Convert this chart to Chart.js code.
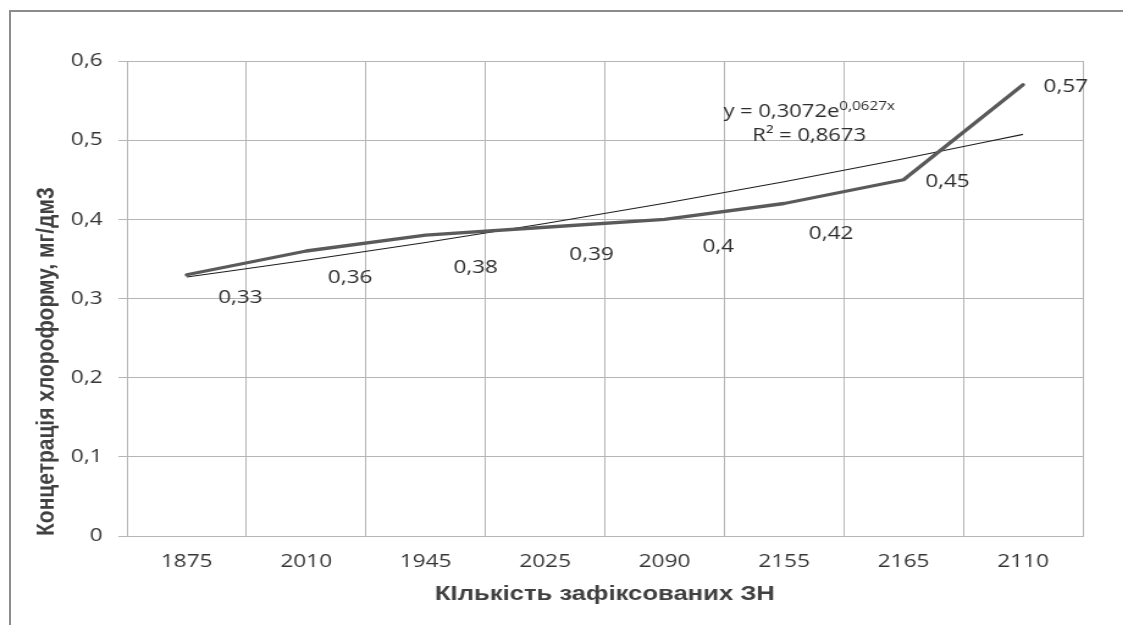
<!DOCTYPE html>
<html lang="uk">
<head>
<meta charset="utf-8">
<title>Концетрація хлороформу</title>
<script src="https://cdn.jsdelivr.net/npm/chart.js@4.4.1/dist/chart.umd.min.js"></script>
<style>
  html, body { margin: 0; padding: 0; background: #fff; overflow: hidden; }
  #wrap { position: relative; width: 1123px; height: 625px; background: #fff; overflow: hidden; }
  /* the chart is drawn 920px wide and widened to the full 1123px */
  #stretch { position: absolute; left: 0; top: 0; width: 920px; height: 625px;
             transform: scaleX(1.2207); transform-origin: 0 0; }
  #frame {
    position: absolute; left: 9px; top: 10px; right: -20px; bottom: -20px;
    border-top: 2px solid #8c8c8c; border-left: 2px solid #8c8c8c;
    pointer-events: none;
  }
</style>
</head>
<body>
<div id="wrap">
  <div id="stretch"><canvas id="c" width="920" height="625"></canvas></div>
  <div id="frame"></div>
</div>
<script>
// Number of recorded events (category labels, in original order)
const categories = ['1875', '2010', '1945', '2025', '2090', '2155', '2165', '2110'];
// Chloroform concentration, mg/dm3
const concentration = [0.33, 0.36, 0.38, 0.39, 0.40, 0.42, 0.45, 0.57];
// Exponential trend y = A·e^(B·x), x = 1..n, and its R²
const TREND_A = 0.3072;
const TREND_B = 0.0627;
const TREND_R2 = 0.8673;
// Y axis ticks
const yTicks = [0, 0.1, 0.2, 0.3, 0.4, 0.5, 0.6];

// Label placement around each point (canvas px), kept apart from the data
const labelShiftX = [44, 36, 41, 38, 44, 38.5, 36, 35];
const labelShiftY = [23, 27, 33, 27, 27, 30, 2, 2];

const trend = categories.map((_, i) => TREND_A * Math.exp(TREND_B * (i + 1)));

const comma = (v) => String(v).replace('.', ',');
const fmt = (v) => comma(+v.toFixed(4));

const FONT_NUM = "'Open Sans', 'DejaVu Sans', sans-serif";
const FONT_TITLE = "'Liberation Sans', Arial, sans-serif";

const pointLabels = {
  id: 'pointLabels',
  afterDatasetsDraw(chart) {
    const meta = chart.getDatasetMeta(1);
    const ctx = chart.ctx;
    ctx.save();
    ctx.font = '18.5px ' + FONT_NUM;
    ctx.fillStyle = '#2e2e2e';
    ctx.textAlign = 'center';
    ctx.textBaseline = 'middle';
    meta.data.forEach((pt, i) => {
      ctx.fillText(fmt(concentration[i]), pt.x + labelShiftX[i], pt.y + labelShiftY[i]);
    });
    ctx.restore();
  }
};

const trendLabel = {
  id: 'trendLabel',
  afterDatasetsDraw(chart) {
    const ctx = chart.ctx;
    const xs = chart.scales.x;
    const cx = xs.getPixelForValue(5.21);
    ctx.save();
    ctx.fillStyle = '#2e2e2e';
    ctx.textBaseline = 'alphabetic';
    const main = 'y = ' + fmt(TREND_A) + 'e';
    const sup = fmt(TREND_B) + 'x';
    ctx.font = '18px ' + FONT_NUM;
    const wMain = ctx.measureText(main).width;
    ctx.font = '12.5px ' + FONT_NUM;
    const wSup = ctx.measureText(sup).width;
    const x0 = cx - (wMain + wSup) / 2;
    ctx.textAlign = 'left';
    ctx.font = '18px ' + FONT_NUM;
    ctx.fillText(main, x0, 117);
    ctx.font = '12.5px ' + FONT_NUM;
    ctx.fillText(sup, x0 + wMain, 110);
    ctx.font = '18px ' + FONT_NUM;
    ctx.textAlign = 'center';
    ctx.fillText('R² = ' + fmt(TREND_R2), cx, 141);
    ctx.restore();
  }
};

new Chart(document.getElementById('c'), {
  type: 'line',
  data: {
    labels: categories,
    datasets: [
      {
        label: 'Експоненційний тренд',
        data: trend,
        borderColor: '#1e1e1e',
        borderWidth: 1.1,
        pointRadius: 0,
        cubicInterpolationMode: 'monotone',
        fill: false,
        order: 2
      },
      {
        label: 'Концетрація хлороформу',
        data: concentration,
        borderColor: '#5a5a5a',
        borderWidth: 3.3,
        borderJoinStyle: 'round',
        borderCapStyle: 'round',
        pointRadius: 0,
        tension: 0,
        fill: false,
        order: 1
      }
    ]
  },
  options: {
    responsive: false,
    devicePixelRatio: 1,
    animation: false,
    layout: { padding: { left: 0, top: 61, right: 33, bottom: 0 } },
    plugins: {
      legend: { display: false },
      tooltip: { enabled: false }
    },
    scales: {
      x: {
        type: 'category',
        offset: true,
        grid: { display: true, offset: true, color: '#b5b5b5', lineWidth: 1, drawTicks: false },
        border: { display: true, color: '#b5b5b5', width: 1 },
        ticks: { color: '#363636', font: { family: FONT_NUM, size: 18.5 }, padding: 15, maxRotation: 0, autoSkip: false },
        title: {
          display: true,
          text: 'КІлькість зафіксованих ЗН',
          color: '#404040',
          font: { family: FONT_TITLE, size: 21, weight: 'bold' },
          padding: { top: 0, bottom: 18 }
        },
        afterFit(scale) { scale.height = 89; }
      },
      y: {
        min: 0,
        max: 0.6,
        afterBuildTicks(scale) { scale.ticks = yTicks.map(v => ({ value: v })); },
        grid: { color: '#b5b5b5', lineWidth: 1, drawTicks: true, tickLength: 7, tickColor: '#b5b5b5' },
        border: { display: true, color: '#b5b5b5', width: 1 },
        ticks: {
          color: '#363636',
          font: { family: FONT_NUM, size: 18.5 },
          padding: 13,
          callback: (v) => fmt(v)
        },
        title: {
          display: true,
          text: 'Концетрація хлороформу, мг/дм3',
          align: 'start',
          color: '#404040',
          font: { family: FONT_TITLE, size: 21, weight: 'bold' },
          padding: { top: 26, bottom: 0 }
        },
        afterFit(scale) { scale.width = 104; }
      }
    }
  },
  plugins: [pointLabels, trendLabel]
});
</script>
</body>
</html>
